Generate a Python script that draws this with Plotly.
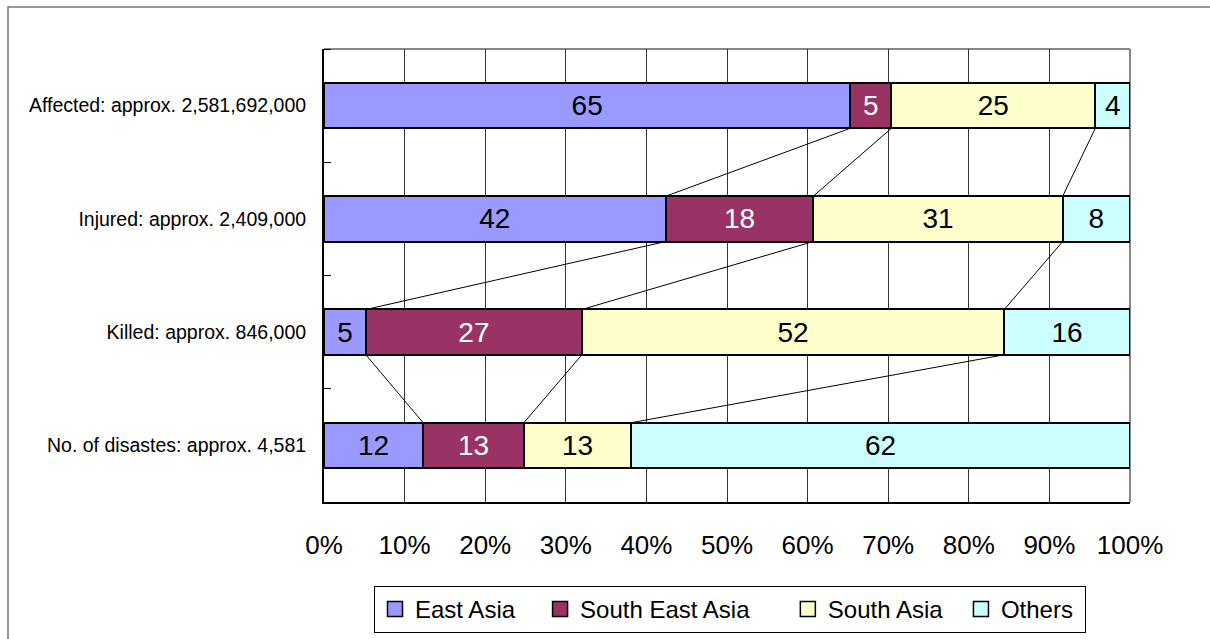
import plotly.graph_objects as go

# ---- data ----
categories = ["Affected: approx. 2,581,692,000", "Injured: approx. 2,409,000",
              "Killed: approx. 846,000", "No. of disastes: approx. 4,581"]
series_names = ["East Asia", "South East Asia", "South Asia", "Others"]
east_asia = [65.3, 42.4, 5.2, 12.3]
south_east_asia = [5.1, 18.3, 26.8, 12.5]
south_asia = [25.3, 30.95, 52.4, 13.3]
others = [4.3, 8.35, 15.6, 61.9]
east_asia_labels = [65, 42, 5, 12]
south_east_asia_labels = [5, 18, 27, 13]
south_asia_labels = [25, 31, 52, 13]
others_labels = [4, 8, 16, 62]
x_ticks = [0, 10, 20, 30, 40, 50, 60, 70, 80, 90, 100]
x_tick_labels = [f"{v}%" for v in x_ticks]

colors = ["#9999FF", "#993366", "#FFFFCC", "#CCFFFF"]
text_colors = ["black", "white", "black", "black"]

FONT = "Liberation Sans, Arial, sans-serif"

# category positions: first category at top
ypos = [len(categories) - 1 - i for i in range(len(categories))]
BAR_W = 0.4

fig = go.Figure()
all_vals = [east_asia, south_east_asia, south_asia, others]
all_labels = [east_asia_labels, south_east_asia_labels, south_asia_labels, others_labels]
for name, vals, labs, col, tcol in zip(series_names, all_vals, all_labels, colors, text_colors):
    fig.add_trace(go.Bar(
        y=ypos, x=vals, orientation="h", name=name, width=BAR_W,
        marker=dict(color=col, line=dict(color="black", width=2)),
        text=[str(l) for l in labs], textposition="inside", insidetextanchor="middle",
        textangle=0, constraintext="none",
        textfont=dict(family=FONT, size=28, color=tcol),
        hoverinfo="skip", showlegend=False,
    ))

# legend-only entries (larger square swatches)
pads = ["\u00a0" * 3, "\u00a0" * 5, "\u00a0" * 2, "\u00a0"]
for name, col, pad in zip(series_names, colors, pads):
    fig.add_trace(go.Scatter(
        x=[None], y=[None], mode="markers", name=name + pad,
        marker=dict(symbol="square", size=15, color=col,
                    line=dict(color="black", width=1.5)),
        hoverinfo="skip", showlegend=True,
    ))

# series connector lines between adjacent bars
cums = []
for i in range(len(categories)):
    c, row = 0, []
    for vals in all_vals[:-1]:
        c += vals[i]
        row.append(c)
    cums.append(row)
shapes = []
for i in range(len(categories) - 1):
    for k in range(len(all_vals) - 1):
        shapes.append(dict(type="line", xref="x", yref="y",
                           x0=cums[i][k], y0=ypos[i] - BAR_W / 2,
                           x1=cums[i + 1][k], y1=ypos[i + 1] + BAR_W / 2,
                           line=dict(color="black", width=1), layer="above"))

# plot-area top/right border (grey)
shapes.append(dict(type="line", xref="paper", yref="paper", x0=0, y0=1, x1=1, y1=1,
                   line=dict(color="#888888", width=2), layer="below"))
shapes.append(dict(type="line", xref="paper", yref="paper", x0=1, y0=0, x1=1, y1=1,
                   line=dict(color="#888888", width=2), layer="below"))
# outer chart frame
L, T, W, H = 324, 49, 806, 453
shapes.append(dict(type="rect", xref="paper", yref="paper",
                   x0=(8 - L) / W, x1=(1230 - L) / W,
                   y0=-(660 - (T + H)) / H, y1=1 + (T - 7) / H,
                   line=dict(color="#777777", width=1.5), layer="below"))

fig.update_layout(
    width=1210, height=639,
    margin=dict(l=L, r=1210 - L - W, t=T, b=639 - T - H, autoexpand=False),
    paper_bgcolor="white", plot_bgcolor="white",
    barmode="stack", bargap=0.6,
    shapes=shapes,
    showlegend=True,
    legend=dict(orientation="h", x=(374 - L) / W, xanchor="left",
                y=-(586 - (T + H)) / H, yanchor="top",
                bordercolor="black", borderwidth=1, bgcolor="white",
                font=dict(family=FONT, size=24, color="black"),
                itemwidth=30, traceorder="normal"),
    xaxis=dict(range=[0, 100], tickvals=x_ticks, ticktext=x_tick_labels,
               showgrid=True, gridcolor="#333333", gridwidth=1,
               showline=True, linecolor="black", linewidth=2,
               ticks="", ticklabelstandoff=19, zeroline=False,
               tickfont=dict(family=FONT, size=26, color="black"), fixedrange=True),
    yaxis=dict(range=[-0.5, 3.5], tickvals=ypos, ticktext=categories,
               showgrid=False, showline=True, linecolor="black", linewidth=2,
               ticks="", ticklabelstandoff=12, zeroline=False,
               tickfont=dict(family=FONT, size=19.5, color="black"),
               minor=dict(tickvals=[0.5, 1.5, 2.5, 3.5], ticks="inside", ticklen=7,
                          tickcolor="black", tickwidth=1, showgrid=False),
               fixedrange=True),
)

fig.write_html("out.html")
